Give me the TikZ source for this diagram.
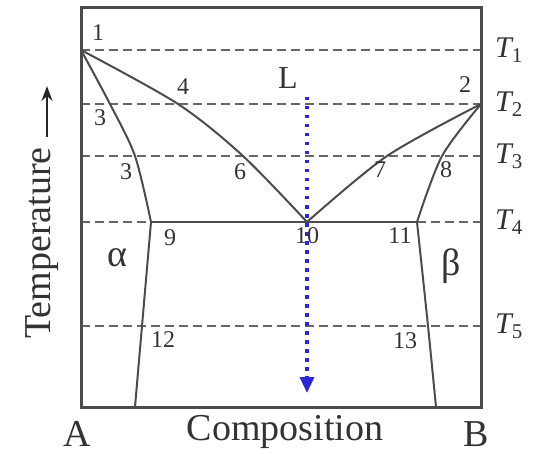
\documentclass[tikz,border=0pt]{standalone}
\usepackage{fontspec}
\setmainfont{Liberation Serif}
\usetikzlibrary{arrows.meta}
\definecolor{coolblue}{RGB}{40,40,215}
\newcommand{\fsz}[1]{\fontsize{#1}{#1}\selectfont}

\begin{document}
\begin{tikzpicture}[
  x=1pt, y=-1pt,
  frame/.style={draw=black!70, line width=3pt},
  phase/.style={draw=black!70, line width=2pt},
  iso/.style={draw=black!60, line width=2pt, dash pattern=on 9pt off 5pt},
  num/.style={font=\fsz{24}, text=black!80, inner sep=0pt},
  big/.style={font=\fsz{38}, text=black!80, inner sep=0pt},
  tlbl/.style={font=\fsz{30}, text=black!80, inner sep=0pt},
  greek/.style={font=\fsz{38}, text=black!80, inner sep=0pt},
  cool/.style={draw=coolblue, line width=3.5pt, dash pattern=on 3.5pt off 5.5pt,
               -{Triangle[length=16pt,width=14pt,fill=coolblue]}}]
  \useasboundingbox (0,0) rectangle (537,454);
  % isotherms T1..T5
  \foreach \y/\n in {50/1, 104/2, 156/3, 222/4, 326/5} {
    \coordinate (L\n) at (81,\y);
    \coordinate (R\n) at (481,\y);
    \node[tlbl, right=14pt] (T\n) at (R\n) {\itshape T\textsubscript{\upshape\n}};
  }
  % points on the phase lines
  \coordinate (p1) at (81,50);
  \coordinate (p2) at (481,104);
  \coordinate (p3) at (110,104);
  \coordinate (p3b) at (135,156);
  \coordinate (p4) at (178,104);
  \coordinate (p6) at (243,156);
  \coordinate (p7) at (387,156);
  \coordinate (p8) at (442,156);
  \coordinate (p9) at (151,222);
  \coordinate (p10) at (307,222);
  \coordinate (p11) at (417,222);
  \coordinate (p12) at (142,326);
  \coordinate (p13) at (428,326);
  \coordinate (abot) at (135,407);
  \coordinate (bbot) at (436,407);
  \foreach \n in {1,2,3,5}
    \draw[iso] (L\n) -- (R\n);
  \draw[iso] (L4) -- (p9);
  \draw[iso] (p11) -- (R4);
  % liquidus, solidus, solvus
  \draw[phase] plot[smooth, tension=0.5] coordinates {(p1) (p4) (p6) (p10)};
  \draw[phase] plot[smooth, tension=0.5] coordinates {(p2) (p7) (p10)};
  \draw[phase] plot[smooth, tension=0.5] coordinates {(p1) (p3) (p3b) (p9)};
  \draw[phase] plot[smooth, tension=0.5] coordinates {(p9) (p12) (abot)};
  \draw[phase] plot[smooth, tension=0.5] coordinates {(p2) (p8) (p11)};
  \draw[phase] plot[smooth, tension=0.5] coordinates {(p11) (p13) (bbot)};
  \draw[phase] (p9) -- (p11);
  % cooling path
  \coordinate (c0) at (307,97);
  \coordinate (c1) at (307,393);
  \draw[cool] (c0) -- (c1);
  % frame
  \draw[frame] (81,8) rectangle (481,407);
  % point labels
  \foreach \t/\x/\y [count=\i] in {1/98/33, 2/465/85, 3/100/118, 3/126/172, 4/183/87,
                                   6/240/172, 7/380/170, 8/446/170, 9/170/238,
                                   10/307/236, 11/400/236, 12/163/340, 13/405/341}
    \node[num] (n\i) at (\x,\y) {\t};
  \node[font=\fsz{32}, text=black!80, inner sep=0pt] (liq) at (288,78) {L};
  \node[greek] (alpha) at (117,258) {α};
  \node[greek] (beta) at (451,266) {β};
  % axes
  \node[big] (A) at (77,434) {A};
  \node[big] (B) at (476,434) {B};
  \node[big] (comp) at (285,432) {Composition};
  \node[big, rotate=90] (temp) at (42,243) {Temperature};
  \coordinate (ta) at (47,137);
  \coordinate (tb) at (47,86);
  \draw[black!85, line width=1.6pt, -{Stealth[length=15pt,width=11pt]}] (ta) -- (tb);
\end{tikzpicture}
\end{document}
